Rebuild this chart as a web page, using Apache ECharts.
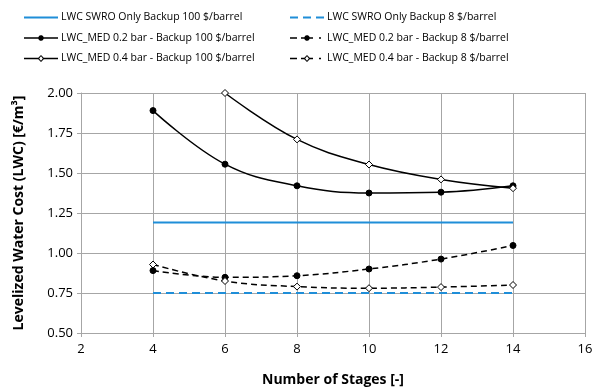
<!DOCTYPE html>
<html><head><meta charset="utf-8">
<script src="https://cdn.jsdelivr.net/npm/echarts@6/dist/echarts.min.js"></script>
<style>html,body{margin:0;padding:0;background:#fff}#c{width:592px;height:389px}</style>
</head><body><div id="c"></div>
<script>
const stages = [4, 6, 8, 10, 12, 14];
const swro100 = [1.19, 1.19, 1.19, 1.19, 1.19, 1.19];
const swro8 = [0.75, 0.75, 0.75, 0.75, 0.75, 0.75];
const med02_100 = [1.89, 1.555, 1.42, 1.375, 1.38, 1.42];
const med04_100 = [null, 2.00, 1.71, 1.553, 1.46, 1.405];
const med02_8 = [0.89, 0.848, 0.858, 0.90, 0.962, 1.047];
const med04_8 = [0.928, 0.825, 0.79, 0.78, 0.787, 0.80];
const names = [
  'LWC SWRO Only Backup 100 $/barrel',
  'LWC SWRO Only Backup 8 $/barrel',
  'LWC_MED 0.2 bar - Backup 100 $/barrel',
  'LWC_MED 0.2 bar - Backup 8 $/barrel',
  'LWC_MED 0.4 bar - Backup 100 $/barrel',
  'LWC_MED 0.4 bar - Backup 8 $/barrel'
];
const pairs = a => stages.map((x, i) => [x, a[i]]).filter(p => p[1] !== null);
const font = 'Open Sans';
const blue = '#1f8ed8';
function mk(name, data, color, type, symbol, fill, smooth, width) {
  return {
    name, type: 'line', data: pairs(data), smooth: smooth ? 0.4 : false,
    symbol: symbol, symbolSize: symbol === 'diamond' ? 7 : 6,
    showSymbol: symbol !== 'none',
    lineStyle: { color, width, type },
    itemStyle: { color: fill, borderColor: color, borderWidth: 1 },
    emphasis: { disabled: true }, z: 3
  };
}
// legend icon shapes (bounding box 0..34 x 0.5..7.5)
const box = 'M0,0.5L0.01,0.5L0,0.5ZM34,7.5L33.99,7.5L34,7.5Z';
const dotMid = 'M14.3,3.25A2.8,2.8 0 0 1 19.7,3.25L19.7,4.75A2.8,2.8 0 0 1 14.3,4.75Z';
const diaMid = 'M17,0.5L20.5,4L17,7.5L13.5,4ZM17,1.8L15.2,4L17,6.2L18.8,4Z';
const icons = {
  solidBlue: 'path://' + box + 'M0,3H34V5H0Z',
  dashBlue: 'path://' + box + 'M0,3H8V5H0ZM13,3H21V5H13ZM26,3H34V5H26Z',
  solidDot: 'path://' + box + 'M0,3.25H34V4.75H0Z' + dotMid,
  dashDot: 'path://' + box + 'M0,3.25H7V4.75H0ZM11,3.25H23V4.75H11Z' + dotMid + 'M29,3.25H31V4.75H29Z',
  solidDia: 'path://' + box + 'M0,3.25H14V4.75H0ZM20,3.25H34V4.75H20Z' + diaMid,
  dashDia: 'path://' + box + 'M0,3.25H7V4.75H0ZM11,3.25H14V4.75H11ZM20,3.25H23V4.75H20Z' + diaMid + 'M29,3.25H31V4.75H29Z'
};
const li = (name, icon, color) => ({ name, icon, itemStyle: { color, borderWidth: 0 } });
const legText = { fontSize: 10.5, color: '#000', fontFamily: font, padding: [0, 0, 0, -2] };
const chart = echarts.init(document.getElementById('c'));
chart.setOption({
  animation: false,
  textStyle: { fontFamily: font },
  legend: [
    { data: [li(names[0], icons.solidBlue, blue), li(names[2], icons.solidDot, '#000'), li(names[4], icons.solidDia, '#000')],
      orient: 'vertical', left: 19, top: 7, itemGap: 9.5, itemWidth: 34, itemHeight: 7, textStyle: legText },
    { data: [li(names[1], icons.dashBlue, blue), li(names[3], icons.dashDot, '#000'), li(names[5], icons.dashDia, '#000')],
      orient: 'vertical', left: 285, top: 7, itemGap: 9.5, itemWidth: 34, itemHeight: 7, textStyle: legText }
  ],
  grid: { left: 81, right: 7, top: 93, bottom: 56, outerBoundsMode: 'none', containLabel: false },
  xAxis: {
    type: 'value', min: 2, max: 16, interval: 2,
    name: 'Number of Stages [-]', nameLocation: 'middle', nameGap: 40,
    nameTextStyle: { fontSize: 14, fontWeight: 'bold', color: '#000', fontFamily: font },
    axisLine: { lineStyle: { color: '#a6a6a6', width: 1 } },
    axisTick: { show: true, length: 4, lineStyle: { color: '#a6a6a6' } },
    axisLabel: { fontSize: 13, color: '#000', margin: 10 },
    splitLine: { show: true, lineStyle: { color: '#a6a6a6', width: 1 } }
  },
  yAxis: {
    type: 'value', min: 0.5, max: 2.0, interval: 0.25,
    name: 'Levelized Water Cost (LWC) [€/m³]', nameLocation: 'middle', nameGap: 55,
    nameTextStyle: { fontSize: 14, fontWeight: 'bold', color: '#000', fontFamily: font },
    axisLine: { show: true, lineStyle: { color: '#a6a6a6', width: 1 } },
    axisTick: { show: true, length: 4, lineStyle: { color: '#a6a6a6' } },
    axisLabel: { fontSize: 13, color: '#000', formatter: v => v.toFixed(2), margin: 8 },
    splitLine: { show: true, lineStyle: { color: '#a6a6a6', width: 1 } }
  },
  series: [
    mk(names[0], swro100, blue, 'solid', 'none', blue, false, 2),
    mk(names[1], swro8, blue, [8, 5], 'none', blue, false, 2),
    mk(names[2], med02_100, '#000', 'solid', 'circle', '#000', true, 1.5),
    mk(names[3], med02_8, '#000', [6, 4], 'circle', '#000', true, 1.5),
    mk(names[4], med04_100, '#000', 'solid', 'diamond', '#fff', true, 1.5),
    mk(names[5], med04_8, '#000', [6, 4], 'diamond', '#fff', true, 1.5)
  ]
});
</script></body></html>
